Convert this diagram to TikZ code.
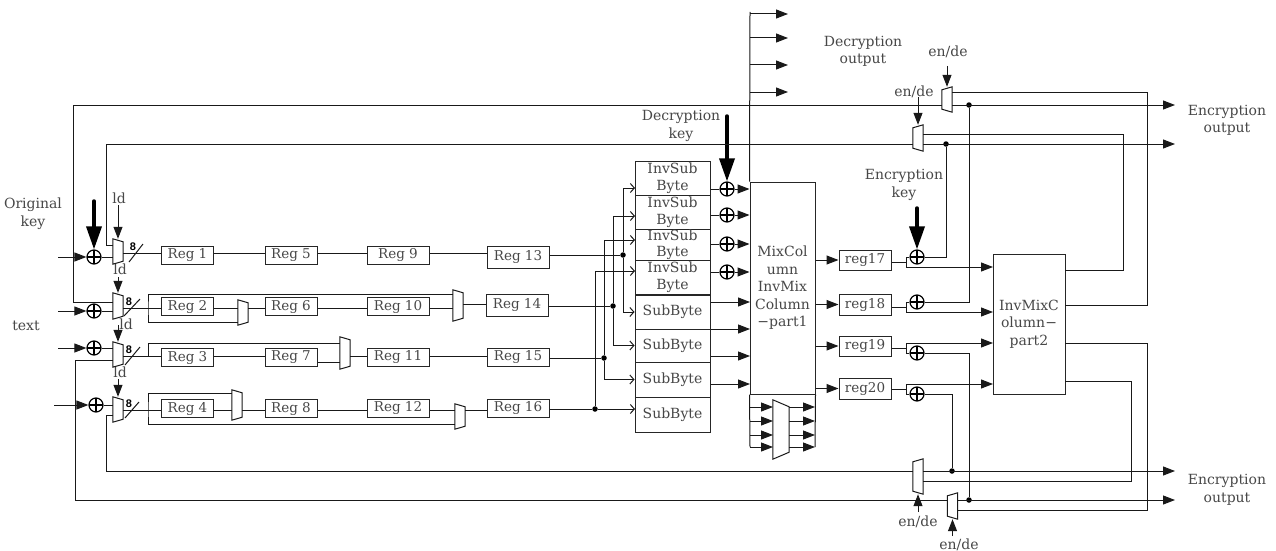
\documentclass[tikz,border=0pt]{standalone}
\usepackage{fontspec}
\setmainfont{DejaVu Serif}
\setsansfont{Liberation Sans}
\usepackage{xcolor}
\usepackage{tikz}
\usetikzlibrary{arrows.meta,calc}
\tikzset{
  wire/.style={line width=1pt, color=black!90},
  arrowwire/.style={wire, -{Triangle[length=12pt, width=9pt]}},
  openwire/.style={wire, -{Straight Barb[length=4pt, width=9pt]}},
  keyarrow/.style={line width=3.5pt, color=black, line cap=round, -{Triangle[length=23pt, width=15pt]}},
  lbl/.style={align=center, inner sep=0pt, text=black!72, font=\fontsize{14}{17.5}\selectfont},
  bitlbl/.style={inner sep=0pt, font=\sffamily\bfseries\fontsize{11}{11}\selectfont},
  regbox/.style={rectangle, draw=black!85, line width=1pt, minimum width=52pt, minimum height=18pt, inner sep=0pt, text=black!72, font=\fontsize{13.5}{15}\selectfont},
  widereg/.style={regbox, minimum width=62pt},
  subbox/.style={rectangle, draw=black!85, line width=1pt, minimum width=75pt, inner sep=0pt, align=center, text=black!72, font=\fontsize{14}{16.5}\selectfont},
  blockbox/.style={rectangle, draw=black!85, line width=1pt, inner sep=0pt, align=center, text=black!72, font=\fontsize{14}{17.5}\selectfont},
  xorgate/.style={circle, draw=black, line width=1.2pt, minimum size=14pt, inner sep=0pt, path picture={\draw[line width=1.2pt] (path picture bounding box.north) -- (path picture bounding box.south) (path picture bounding box.west) -- (path picture bounding box.east);}},
  jointdot/.style={circle, fill=black, minimum size=5.5pt, inner sep=0pt},
  muxshape/.style n args={3}{rectangle, inner sep=0pt, minimum height=#1, minimum width=#2, append after command={\pgfextra{\draw[wire] (\tikzlastnode.north west) -- ($(\tikzlastnode.north east)+(0,#3)$) -- ($(\tikzlastnode.south east)+(0,-#3)$) -- (\tikzlastnode.south west) -- cycle;}}},
  mux/.style={muxshape={#1}{10pt}{3}},
  revmux/.style={rectangle, inner sep=0pt, minimum height=#1, minimum width=10pt, append after command={\pgfextra{\draw[wire] (\tikzlastnode.north east) -- ($(\tikzlastnode.north west)+(0,3)$) -- ($(\tikzlastnode.south west)+(0,-3)$) -- (\tikzlastnode.south east) -- cycle;}}},
}
\begin{document}
\begin{tikzpicture}[x=1pt, y=-1pt]
\useasboundingbox (0,0) rectangle (1276,551);
\coordinate (ra) at (0,253);
\coordinate (rai) at (0,245);
\coordinate (rbt) at (0,294);
\coordinate (rb) at (0,308);
\coordinate (rbb) at (0,322);
\coordinate (rbi) at (0,302);
\coordinate (rbo) at (0,304);
\coordinate (rct) at (0,343);
\coordinate (rc) at (0,356);
\coordinate (rcm) at (0,362);
\coordinate (rci) at (0,360);
\coordinate (rdt) at (0,393);
\coordinate (rd) at (0,410);
\coordinate (rdb) at (0,424);
\coordinate (rdi) at (0,415);
\coordinate (brb) at (148,308);
\coordinate (brc) at (148,356);
\coordinate (brd) at (148,410);
\node[lbl] (origkey) at (33,213.5) {Original\\key};
\node[lbl] (textlbl) at (26,326) {text};
\node[lbl] (deckey) at (681,126) {Decryption\\key};
\node[lbl] (decout) at (863,51.5) {Decryption\\output};
\node[lbl] (enckey) at (904,185) {Encryption\\key};
\node[lbl] (encouta) at (1227,120.5) {Encryption\\output};
\node[lbl] (encoutb) at (1227,490) {Encryption\\output};
\node[lbl] (ldaa) at (119,198) {ld};
\node[lbl] (ldba) at (120,269) {ld};
\node[lbl] (ldca) at (126,324) {ld};
\node[lbl] (ldda) at (120,372) {ld};
\node[lbl] (endea) at (948,52) {en/de};
\node[lbl] (endeb) at (914,92) {en/de};
\node[lbl] (endec) at (918,522) {en/de};
\node[lbl] (ended) at (959,545) {en/de};
\node[xorgate] (xor1) at (94,257) {};
\node[xorgate] (xor2) at (94,311) {};
\node[xorgate] (xor3) at (94,348) {};
\node[xorgate] (xor4) at (96,405) {};
\node[mux=25pt] (mux1) at (118,251.5) {};
\node[mux=26pt] (mux2) at (118,306) {};
\node[mux=25pt] (mux3) at (118,354.5) {};
\node[mux=25pt] (mux4) at (118,409.5) {};
\node[mux=25pt] (muxb) at (243,312.5) {};
\node[mux=31pt] (muxc) at (458,305.5) {};
\node[mux=32pt] (muxd) at (345,353) {};
\node[mux=30pt] (muxe) at (237,405) {};
\node[mux=25pt] (muxf) at (460,416.5) {};
\node[revmux=25pt] (muxtop) at (947,99.5) {};
\node[revmux=26pt] (muxupp) at (918,138) {};
\node[revmux=35pt] (muxlow) at (918,476.5) {};
\node[revmux=26pt] (muxbot) at (952.5,506) {};
\node[bitlbl] (bita) at (133,247) {8};
\node[bitlbl] (bitb) at (129,302) {8};
\node[bitlbl] (bitc) at (129,350) {8};
\node[bitlbl] (bitd) at (129,404) {8};
\node[regbox] (reg1) at (187.5,255) {Reg 1};
\node[regbox] (reg5) at (291,255) {Reg 5};
\node[widereg] (reg9) at (398,255) {Reg 9};
\node[widereg, minimum height=22pt] (reg13) at (518,257) {Reg 13};
\node[regbox] (reg2) at (187.5,306.5) {Reg 2};
\node[regbox] (reg6) at (291,306.5) {Reg 6};
\node[widereg] (reg10) at (398,306.5) {Reg 10};
\node[widereg, minimum height=22pt] (reg14) at (517,305) {Reg 14};
\node[regbox] (reg3) at (187.5,357.5) {Reg 3};
\node[regbox] (reg7) at (291,357.5) {Reg 7};
\node[widereg] (reg11) at (398,357) {Reg 11};
\node[widereg] (reg15) at (518,357) {Reg 15};
\node[regbox] (reg4) at (187.5,408.5) {Reg 4};
\node[regbox] (reg8) at (291,408.5) {Reg 8};
\node[widereg] (reg12) at (398,408) {Reg 12};
\node[widereg] (reg16) at (518,408) {Reg 16};
\node[subbox, minimum height=34pt] (inv1) at (672.5,178) {InvSub\\Byte};
\node[subbox, minimum height=34pt] (inv2) at (672.5,212) {InvSub\\Byte};
\node[subbox, minimum height=31pt] (inv3) at (672.5,244.5) {InvSub\\Byte};
\node[subbox, minimum height=34pt] (inv4) at (672.5,277) {InvSub\\Byte};
\node[subbox, minimum height=34pt] (sub1) at (672.5,312) {SubByte};
\node[subbox, minimum height=33pt] (sub2) at (672.5,345.5) {SubByte};
\node[subbox, minimum height=35pt] (sub3) at (672.5,379.5) {SubByte};
\node[subbox, minimum height=35pt] (sub4) at (672.5,414.5) {SubByte};
\node[blockbox, minimum width=65pt, minimum height=212pt] (mixcol) at (782.5,288) {MixCol\\umn\\InvMix\\Column\\−part1};
\node[blockbox, minimum width=72pt, minimum height=140pt] (invmix) at (1029,324) {InvMixC\\olumn−\\part2};
\node[regbox, minimum height=20pt] (reg17) at (865,260) {reg17};
\node[regbox, minimum height=21pt] (reg18) at (865,304.5) {reg18};
\node[regbox, minimum height=20pt] (reg19) at (865,346) {reg19};
\node[regbox, minimum height=21pt] (reg20) at (865,388.5) {reg20};
\node[xorgate] (xora) at (727,189) {};
\node[xorgate] (xorb) at (727,215) {};
\node[xorgate] (xorc) at (727,244) {};
\node[xorgate] (xord) at (727,272) {};
\node[xorgate] (xor17) at (917,257) {};
\node[xorgate] (xor18) at (917,302) {};
\node[xorgate] (xor19) at (917,353) {};
\node[xorgate] (xor20) at (917,394) {};
\node[jointdot] (dot13) at (623,255) {};
\node[jointdot] (dot14) at (613,306) {};
\node[jointdot] (dot15) at (604,358) {};
\node[jointdot] (dot16) at (595,409) {};
\node[jointdot] (dota) at (946,144) {};
\node[jointdot] (dotb) at (969,105) {};
\node[jointdot] (dotc) at (969,500) {};
\node[jointdot] (dotd) at (952,471) {};
\node[muxshape={59pt}{16pt}{7}] (mixmux) at (781,429.5) {};
\coordinate (busa) at (73,105);
\coordinate (busb) at (106,144);
\coordinate (busc) at (75,500);
\coordinate (busd) at (106,471);
\coordinate (txa) at (58,257);
\coordinate (txb) at (58,311);
\coordinate (txc) at (58,348);
\coordinate (txd) at (54,405);
\coordinate (keya) at (94,201);
\coordinate (keyb) at (727,116);
\coordinate (keyc) at (917,208);
\coordinate (lda) at (118,205);
\coordinate (ldb) at (118,277);
\coordinate (ldc) at (118,325);
\coordinate (ldd) at (118,379);
\coordinate (enda) at (947,66);
\coordinate (endb) at (918,97);
\coordinate (endc) at (918,512);
\coordinate (endd) at (952.5,536);
\coordinate (enca) at (1175,105);
\coordinate (encb) at (1175,144);
\coordinate (encc) at (1175,471);
\coordinate (encd) at (1175,500);
\coordinate (ca) at (1147,92);
\coordinate (cb) at (1123,134);
\coordinate (cc) at (1147,510);
\coordinate (cd) at (1131,481);
\coordinate (inva) at (1065,305);
\coordinate (invb) at (1065,270);
\coordinate (invc) at (1065,343);
\coordinate (invd) at (1065,381);
\coordinate (ja) at (906,262);
\coordinate (jb) at (906,307);
\coordinate (jc) at (906,348);
\coordinate (jd) at (906,389);
\coordinate (ina) at (993,267);
\coordinate (inb) at (993,312);
\coordinate (inc) at (993,343);
\coordinate (ind) at (993,384);
\coordinate (ia) at (635,188);
\coordinate (ib) at (635,216);
\coordinate (ic) at (635,240);
\coordinate (id) at (635,271);
\coordinate (ih) at (635,409);
\coordinate (oa) at (750,302);
\coordinate (ob) at (750,329);
\coordinate (oc) at (750,356);
\coordinate (od) at (750,384);
\coordinate (ma) at (773,407);
\coordinate (mb) at (773,421);
\coordinate (mc) at (773,435);
\coordinate (md) at (773,447);
\coordinate (mixa) at (750,447);
\coordinate (mixb) at (815,447);
\coordinate (bustop) at (750,12);
\coordinate (deca) at (788,14);
\coordinate (decb) at (788,38);
\coordinate (decc) at (788,65);
\coordinate (decd) at (788,92);
\draw[keyarrow] (keya) -- (xor1.north);
\draw[keyarrow] (keyb) -- (xora.north);
\draw[keyarrow] (keyc) -- (xor17.north);
\draw[arrowwire] (txa) -- (xor1.west);
\draw[arrowwire] (txb) -- (xor2.west);
\draw[arrowwire] (txc) -- (xor3.west);
\draw[arrowwire] (txd) -- (xor4.west);
\draw[wire] (xor1.east) -- (xor1 -| mux1.west);
\draw[wire] (xor2.east) -- (xor2 -| mux2.west);
\draw[wire] (xor3.east) -- (xor3 -| mux3.west);
\draw[wire] (xor4.east) -- (xor4 -| mux4.west);
\draw[arrowwire] (lda) -- (mux1.north);
\draw[arrowwire] (ldb) -- (mux2.north);
\draw[arrowwire] (ldc) -- (mux3.north);
\draw[arrowwire] (ldd) -- (mux4.north);
\draw[wire] (mux1.east |- ra) -- (reg1.west |- ra);
\draw[wire] (reg1.east |- ra) -- (reg5.west |- ra);
\draw[wire] (reg5.east |- ra) -- (reg9.west |- ra);
\draw[wire] (reg9.east |- ra) -- (reg13.west |- ra);
\draw[wire] (129,262) -- (143,244);
\draw[wire] (124,316) -- (140,299);
\draw[wire] (125,365) -- (140,347);
\draw[wire] (125,418) -- (139,402);
\draw[wire] (mux2.east |- rb) -- (reg2.west |- rb);
\draw[wire] (reg2.east |- rb) -- (muxb.west |- rb);
\draw[wire] (muxb.east |- rb) -- (reg6.west |- rb);
\draw[wire] (reg6.east |- rb) -- (reg10.west |- rb);
\draw[wire] (reg10.east |- rb) -- (muxc.west |- rb);
\draw[wire] (muxc.east |- rbo) -- (reg14.west |- rbo);
\draw[wire] (muxb.west |- rbb) -| (brb) |- (muxc.west |- rbt);
\draw[wire] (mux3.east |- rc) -- (reg3.west |- rc);
\draw[wire] (reg3.east |- rc) -- (reg7.west |- rc);
\draw[wire] (reg7.east |- rcm) -- (muxd.west |- rcm);
\draw[wire] (muxd.east |- rc) -- (reg11.west |- rc);
\draw[wire] (reg11.east |- rc) -- (reg15.west |- rc);
\draw[wire] (brc) |- (muxd.west |- rct);
\draw[wire] (mux4.east |- rd) -- (reg4.west |- rd);
\draw[wire] (reg4.east |- rd) -- (muxe.west |- rd);
\draw[wire] (muxe.east |- rd) -- (reg8.west |- rd);
\draw[wire] (reg8.east |- rd) -- (reg12.west |- rd);
\draw[wire] (reg12.east |- rd) -- (muxf.west |- rd);
\draw[wire] (muxf.east |- rd) -- (reg16.west |- rd);
\draw[wire] (muxe.west |- rdt) -| (brd) |- (muxf.west |- rdb);
\draw[wire] (mux2.west |- rbi) -| (busa) -- (muxtop.west |- busa);
\draw[wire] (mux1.west |- rai) -| (busb) -- (muxupp.west |- busb);
\draw[wire] (mux3.west |- rci) -| (busc) -- (muxbot.west |- busc);
\draw[wire] (mux4.west |- rdi) -| (busd) -- (muxlow.west |- busd);
\draw[wire] (reg13.east |- dot13) -- (dot13);
\draw[wire] (reg14.east |- dot14) -- (dot14);
\draw[wire] (reg15.east |- dot15) -- (dot15);
\draw[wire] (reg16.east |- dot16) -- (dot16);
\draw[openwire] (dot13) |- (ia);
\draw[openwire] (dot14) |- (ib);
\draw[openwire] (dot15) |- (ic);
\draw[openwire] (dot16) |- (id);
\draw[openwire] (dot13) |- (sub1.west);
\draw[openwire] (dot14) |- (sub2.west);
\draw[openwire] (dot15) |- (sub3.west);
\draw[openwire] (dot16) -- (ih);
\draw[wire] (xora -| inv1.east) -- (xora.west);
\draw[wire] (xorb -| inv2.east) -- (xorb.west);
\draw[wire] (xorc -| inv3.east) -- (xorc.west);
\draw[wire] (xord -| inv4.east) -- (xord.west);
\draw[arrowwire] (xora.east) -- (xora -| mixcol.west);
\draw[arrowwire] (xorb.east) -- (xorb -| mixcol.west);
\draw[arrowwire] (xorc.east) -- (xorc -| mixcol.west);
\draw[arrowwire] (xord.east) -- (xord -| mixcol.west);
\draw[arrowwire] (oa -| sub1.east) -- (oa);
\draw[arrowwire] (ob -| sub1.east) -- (ob);
\draw[arrowwire] (oc -| sub1.east) -- (oc);
\draw[arrowwire] (od -| sub1.east) -- (od);
\draw[wire] (mixcol.north west) -- (bustop);
\draw[arrowwire] (bustop |- deca) -- (deca);
\draw[arrowwire] (bustop |- decb) -- (decb);
\draw[arrowwire] (bustop |- decc) -- (decc);
\draw[arrowwire] (bustop |- decd) -- (decd);
\draw[wire] (mixcol.south west) -- (mixa);
\draw[wire] (mixcol.south east) -- (mixb);
\draw[arrowwire] (mixa |- ma) -- (ma);
\draw[arrowwire] (mixa |- mb) -- (mb);
\draw[arrowwire] (mixa |- mc) -- (mc);
\draw[arrowwire] (mixa) -- (md);
\draw[arrowwire] (mixmux.east |- ma) -- (mixb |- ma);
\draw[arrowwire] (mixmux.east |- mb) -- (mixb |- mb);
\draw[arrowwire] (mixmux.east |- mc) -- (mixb |- mc);
\draw[arrowwire] (mixmux.east |- md) -- (mixb);
\draw[arrowwire] (mixcol.east |- reg17.west) -- (reg17.west);
\draw[arrowwire] (mixcol.east |- reg18.west) -- (reg18.west);
\draw[arrowwire] (mixcol.east |- reg19.west) -- (reg19.west);
\draw[arrowwire] (mixcol.east |- reg20.west) -- (reg20.west);
\draw[wire] (reg17.east |- ja) -- (ja);
\draw[wire] (reg18.east |- jb) -- (jb);
\draw[wire] (reg19.east |- jc) -- (jc);
\draw[wire] (reg20.east |- jd) -- (jd);
\draw[wire] (xor17.west) -| (ja);
\draw[wire] (xor18.west) -| (jb);
\draw[wire] (xor19.west) -| (jc);
\draw[wire] (xor20.west) -| (jd);
\draw[arrowwire] (ja) |- (ina);
\draw[arrowwire] (jb) |- (inb);
\draw[arrowwire] (jc) |- (inc);
\draw[arrowwire] (jd) |- (ind);
\draw[wire] (xor17.east) -| (dota);
\draw[wire] (xor18.east) -| (dotb);
\draw[wire] (xor19.east) -| (dotc);
\draw[wire] (xor20.east) -| (dotd);
\draw[arrowwire] (muxtop.east |- enca) -- (enca);
\draw[arrowwire] (muxupp.east |- encb) -- (encb);
\draw[arrowwire] (muxlow.east |- encc) -- (encc);
\draw[arrowwire] (muxbot.east |- encd) -- (encd);
\draw[wire] (invc) -- (invc -| cc) |- (muxbot.east |- cc);
\draw[wire] (inva) -- (inva -| ca) |- (muxtop.east |- ca);
\draw[wire] (invb) -- (invb -| cb) |- (muxupp.east |- cb);
\draw[wire] (invd) -- (invd -| cd) |- (muxlow.east |- cd);
\draw[arrowwire] (enda) -- (muxtop.north);
\draw[arrowwire] (endb) -- (muxupp.north);
\draw[arrowwire] (endc) -- (muxlow.south);
\draw[arrowwire] (endd) -- (muxbot.south);
\end{tikzpicture}
\end{document}
